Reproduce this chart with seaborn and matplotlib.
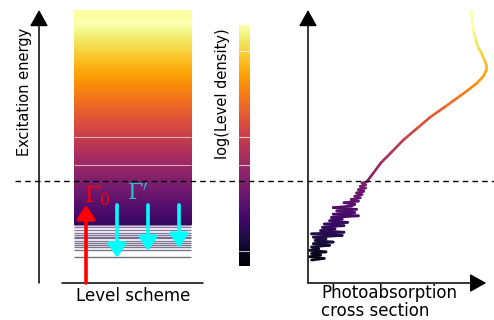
import numpy as np
import matplotlib
matplotlib.use("Agg")
import matplotlib.pyplot as plt
import matplotlib.transforms as mtransforms
from matplotlib.collections import LineCollection
from matplotlib.lines import Line2D
from matplotlib.cm import ScalarMappable
from matplotlib.colors import Normalize
import seaborn as sns

# Energies are in units of the axis height (0 = ground state, 1 = top)
E_threshold = 0.374
E_continuum_low = 0.212
E_top = 1.0

# discrete levels below the continuum
level_E = [0.212, 0.204, 0.194, 0.184, 0.176, 0.170, 0.164, 0.155,
           0.148, 0.139, 0.133, 0.121, 0.096]
# faint white lines inside the level block and the colour bar
block_lines_E = [0.956, 0.535, 0.432]
cbar_lines_E = [0.850, 0.535, 0.432, 0.117]

# transitions
gamma0_E = [0.0, 0.286]
gamma_prime_start = 0.286
gamma_prime_end = [0.092, 0.117, 0.128]

# photoabsorption cross section (arbitrary units), below threshold: noisy
noisy_E = [0.084, 0.090, 0.096, 0.102, 0.108, 0.114, 0.120, 0.126, 0.132,
           0.138, 0.144, 0.150, 0.156, 0.162, 0.168, 0.174, 0.180, 0.186,
           0.192, 0.198, 0.204, 0.210, 0.216, 0.222, 0.228, 0.234, 0.240,
           0.246, 0.252, 0.258, 0.264, 0.270, 0.276, 0.282, 0.288, 0.294,
           0.300, 0.306, 0.312, 0.318, 0.324, 0.330, 0.336, 0.342, 0.348,
           0.354, 0.360, 0.366, 0.372]
noisy_sigma = [0.02, 0.09, 0.01, 0.07, 0.02, 0.10, 0.01, 0.06, 0.02, 0.12,
               0.03, 0.14, 0.04, 0.10, 0.03, 0.19, 0.02, 0.20, 0.07, 0.15,
               0.08, 0.20, 0.09, 0.22, 0.12, 0.19, 0.13, 0.28, 0.14, 0.26,
               0.16, 0.27, 0.14, 0.24, 0.26, 0.20, 0.28, 0.24, 0.29, 0.26,
               0.30, 0.27, 0.31, 0.28, 0.32, 0.29, 0.32, 0.30, 0.33]
# above threshold: smooth giant resonance
smooth_E = [0.374, 0.40, 0.44, 0.48, 0.524, 0.566, 0.608, 0.645, 0.678,
            0.707, 0.733, 0.758, 0.780, 0.800, 0.817, 0.840, 0.864, 0.895,
            0.927, 0.962, 1.0]
smooth_sigma = [0.33, 0.36, 0.405, 0.465, 0.53, 0.605, 0.68, 0.76, 0.83,
                0.89, 0.94, 0.975, 0.99, 0.99, 0.98, 0.965, 0.945, 0.93,
                0.918, 0.912, 0.908]

sns.set_theme(style="white")
plt.rcParams["font.family"] = ["DejaVu Sans"]
plt.rcParams["text.color"] = "black"

cmap = sns.color_palette("inferno", as_cmap=True)
norm = Normalize(vmin=0.062, vmax=0.945)

W, H = 494, 320
fig = plt.figure(figsize=(W / 100, H / 100), dpi=100)


def rect(x0, y0, x1, y1):
    # pixel box (top-left origin) -> figure fraction
    return [x0 / W, 1 - y1 / H, (x1 - x0) / W, (y1 - y0) / H]


arrow_kw = dict(arrowstyle="-|>,head_length=0.5,head_width=0.28",
                color="black", lw=1.1, mutation_scale=20,
                shrinkA=0, shrinkB=0)

# ---- Level scheme ----
axL = fig.add_axes(rect(15, 10, 215, 283))
bx0, bx1 = 0.295, 0.88
grad = np.linspace(E_continuum_low, E_top, 400)[:, None]
axL.imshow(grad, extent=[bx0, bx1, E_continuum_low, E_top], origin="lower",
           aspect="auto", cmap=cmap, norm=norm, interpolation="bilinear")
axL.hlines(block_lines_E, bx0, bx1, color="white", lw=0.8, alpha=0.6)
axL.hlines(level_E, bx0, bx1, colors=[cmap(norm(e)) for e in level_E],
           lw=1.0, alpha=0.55)
axL.annotate("", xy=(0.12, 1.0), xytext=(0.12, 0.0), arrowprops=arrow_kw)
axL.plot([0.235, 0.94], [0, 0], color="black", lw=1.1, clip_on=False)

axL.annotate("", xy=(0.355, gamma0_E[1]), xytext=(0.355, gamma0_E[0]),
             arrowprops=dict(arrowstyle="-|>,head_length=0.42,head_width=0.28",
                             color="red", lw=2.6, mutation_scale=20,
                             shrinkA=0, shrinkB=0))
for x, e_end in zip([0.51, 0.665, 0.82], gamma_prime_end):
    axL.annotate("", xy=(x, e_end), xytext=(x, gamma_prime_start),
                 arrowprops=dict(arrowstyle="-|>,head_length=0.42,head_width=0.28",
                                 color="cyan", lw=2.6, mutation_scale=20,
                                 shrinkA=0, shrinkB=0))
axL.text(0.41, 0.318, r"$\Gamma_0$", color="red", fontsize=16,
         ha="center", va="center", math_fontfamily="dejavuserif")
axL.text(0.615, 0.33, r"$\Gamma'$", color="#1cc3d4", fontsize=16,
         ha="center", va="center", math_fontfamily="dejavuserif")
axL.set_xlim(0, 1)
axL.set_ylim(0, 1)
axL.axis("off")

# ---- Colour bar ----
axC = fig.add_axes(rect(239, 25, 250, 266))
cb = fig.colorbar(ScalarMappable(norm=norm, cmap=cmap), cax=axC)
cb.set_ticks([])
cb.outline.set_visible(False)
for e in cbar_lines_E:
    axC.axhline(e, color="white", lw=0.8, alpha=0.7)

# ---- Photoabsorption cross section ----
axR = fig.add_axes(rect(308, 10, 488, 283))
E_all = np.array(noisy_E + smooth_E)
s_all = np.array(noisy_sigma + smooth_sigma)
pts = np.column_stack([s_all, E_all]).reshape(-1, 1, 2)
segs = np.concatenate([pts[:-1], pts[1:]], axis=1)
lc = LineCollection(segs, colors=cmap(norm(0.5 * (E_all[:-1] + E_all[1:]))),
                    lw=1.9, capstyle="round", joinstyle="round")
axR.add_collection(lc)
axR.annotate("", xy=(0, 1.0), xytext=(0, 0), arrowprops=arrow_kw)
axR.annotate("", xy=(0.99, 0), xytext=(0, 0), arrowprops=arrow_kw)
axR.set_xlim(0, 1)
axR.set_ylim(0, 1)
axR.axis("off")

# ---- Threshold line across everything ----
trans = mtransforms.blended_transform_factory(fig.transFigure, axL.transData)
fig.add_artist(Line2D([15 / W, 1.0], [E_threshold, E_threshold],
                      transform=trans, color="black", lw=1.0,
                      ls=(0, (4, 3)), zorder=10))

# ---- Labels ----
fig.text(24 / W, 1 - 92 / H, "Excitation energy", rotation=90,
         ha="center", va="center", fontsize=10.5)
fig.text(222 / W, 1 - 94 / H, "log(Level density)", rotation=90,
         ha="center", va="center", fontsize=10.5)
fig.text(133 / W, 1 - 296 / H, "Level scheme", ha="center", va="center",
         fontsize=12)
fig.text(321 / W, 1 - 302 / H, "Photoabsorption\ncross section", ha="left",
         va="center", fontsize=12, linespacing=1.0)

fig.savefig("out.png", dpi=100)
